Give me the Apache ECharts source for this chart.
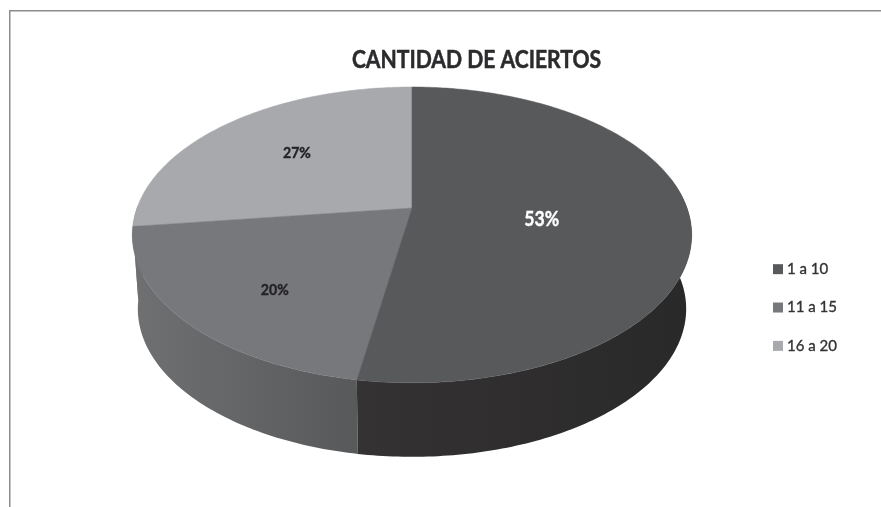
<!DOCTYPE html>
<html><head><meta charset="utf-8">
<style>html,body{margin:0;padding:0;background:#fff}#c{width:881px;height:507px;filter:blur(0.45px)}</style>
<script src="https://cdn.jsdelivr.net/npm/echarts@6/dist/echarts.min.js"></script>
</head><body><div id="c"></div>
<script>
const titleText = 'CANTIDAD DE ACIERTOS';
const categories = ['1 a 10', '11 a 15', '16 a 20'];
const values = [53, 20, 27];
const topColors = ['#58595b', '#77787b', '#a7a9ac'];
const wallColors = [['#343233', '#2a292a'], ['#6f7072', '#58595b'], ['#77787b', '#77787b']];
const labelColors = ['#ffffff', '#232224', '#232224'];
const labelSizes = [21, 16, 16];
const labelStretch = [0.84, 0.88, 0.88];
const labelRadius = [0.47, 0.68, 0.62];
const labelNudge = [[0, 5], [4, 4], [-6, 4]];

// Projection of the tilted disc (a perspective view, so the centre sits above the ellipse's middle)
const topDisc = {cx: 412, cy: 208, rx: 275, ry: 143, k: 0.182};
const baseDisc = {cx: 412, cy: 282, rx: 269.6, ry: 143, k: 0.182};
const wallFrom = 80, wallTo = 270;
const total = values.reduce((a, b) => a + b, 0);

function project(d, deg, f) {
  const r = deg * Math.PI / 180;
  const t = r - (4.1 * Math.sin(2 * r) + 1.0 * Math.sin(r)) * Math.PI / 180;
  const u = Math.sin(t) * f, v = -Math.cos(t) * f, w = 1 - d.k * v;
  return [d.cx + d.rx * u / w, d.cy + d.ry * v / w];
}
function arc(d, a, b) {
  const pts = [], n = Math.max(2, Math.ceil(Math.abs(b - a)));
  for (let i = 0; i <= n; i++) pts.push(project(d, a + (b - a) * i / n, 1));
  return pts;
}
function renderSlice(index) {
  return function (params, api) {
    const v = api.value(0);
    let before = 0;
    for (let i = 0; i < index; i++) before += values[i];
    const a = before / total * 360, b = a + v / total * 360;
    const children = [];
    const wa = Math.max(a, wallFrom), wb = Math.min(b, wallTo);
    if (wb > wa) {
      children.push({
        type: 'polygon', shape: {points: arc(topDisc, wa, wb).concat(arc(baseDisc, wb, wa))},
        style: {fill: new echarts.graphic.LinearGradient(0, 0, 1, 0, [
          {offset: 0, color: wallColors[index][0]},
          {offset: 1, color: wallColors[index][1]}])}
      });
    }
    children.push({
      type: 'polygon', shape: {points: [[topDisc.cx, topDisc.cy]].concat(arc(topDisc, a, b))},
      style: {fill: topColors[index], stroke: topColors[index], lineWidth: 0.5}
    });
    const p = project(topDisc, (a + b) / 2, labelRadius[index]);
    children.push({
      type: 'text', x: p[0] + labelNudge[index][0], y: p[1] + labelNudge[index][1],
      scaleX: labelStretch[index], z2: 10,
      style: {text: v + '%', fill: labelColors[index], stroke: labelColors[index], lineWidth: 0.4,
        align: 'center', verticalAlign: 'middle', font: 'bold ' + labelSizes[index] + 'px Lato'}
    });
    return {type: 'group', children};
  };
}
const order = [2, 1, 0];
const chart = echarts.init(document.getElementById('c'), null, {renderer: 'canvas'});
chart.setOption({
  animation: false,
  backgroundColor: '#ffffff',
  legend: {orient: 'vertical', left: 773, top: 261.5, padding: 0, itemWidth: 10, itemHeight: 10, itemGap: 23,
    icon: 'rect', data: categories, itemStyle: {borderWidth: 0},
    textStyle: {fontFamily: 'Lato', fontSize: 15, color: '#333335', padding: [0, 0, 0, -1],
      textBorderColor: '#333335', textBorderWidth: 0.35}},
  graphic: [
    {type: 'rect', shape: {x: 9, y: 10, width: 872, height: 1.5}, style: {fill: '#8c8c8c'}},
    {type: 'rect', shape: {x: 9, y: 10, width: 1.5, height: 497}, style: {fill: '#8c8c8c'}},
    {type: 'text', x: 476.5, y: 60, scaleX: 0.88,
      style: {text: titleText, fill: '#2b2a2c', stroke: '#2b2a2c', lineWidth: 0.5,
        align: 'center', verticalAlign: 'middle', font: 'bold 24px Lato'}}
  ],
  series: order.map(i => ({
    type: 'custom', name: categories[i], coordinateSystem: 'none',
    itemStyle: {color: topColors[i]},
    renderItem: renderSlice(i),
    data: [[values[i]]]
  }))
});
</script></body></html>
